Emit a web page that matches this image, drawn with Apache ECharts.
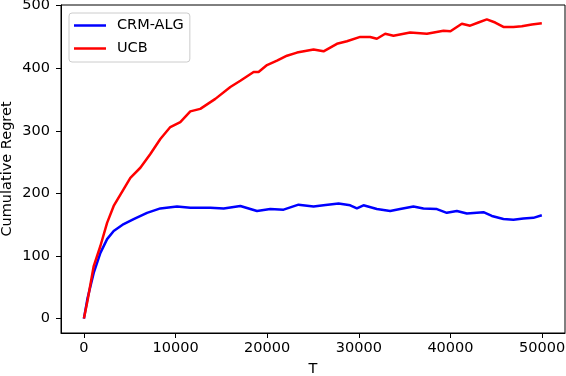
<!DOCTYPE html>
<html>
<head>
<meta charset="utf-8">
<script src="https://cdn.jsdelivr.net/npm/echarts@6.0.0/dist/echarts.min.js"></script>
<style>
  html, body { margin: 0; padding: 0; background: #fff; }
  #chart { width: 566px; height: 376px; }
</style>
</head>
<body>
<div id="chart"></div>
<script>
// values
const crmT = [0, 400, 1070, 1800, 2530, 3250, 4340, 5430, 6890, 8340, 10160, 11610, 12520, 13800, 15250, 17070, 18890, 20340, 21790, 23420, 25060, 26150, 27790, 29060, 29790, 30510, 31970, 33420, 34510, 35960, 37050, 38520, 39600, 40700, 41790, 43600, 44520, 45780, 46870, 47960, 49050, 49970];
const crmR = [0, 33, 73, 105, 127, 140, 151, 159, 169, 176, 179, 177, 177, 177, 176, 180, 172, 175, 174, 182, 179, 181, 184, 181, 176, 181, 175, 172, 175, 179, 176, 175, 169, 172, 168, 170, 164, 159, 158, 160, 161, 165];

const ucbT = [0, 414, 1070, 1800, 2530, 3250, 4340, 5070, 6160, 7250, 8340, 9430, 10520, 11610, 12700, 14340, 15980, 17070, 18520, 19060, 19980, 21070, 22160, 23250, 25060, 26150, 27610, 28700, 30150, 31240, 31970, 32880, 33780, 35600, 37430, 39240, 40000, 41240, 42150, 43050, 43970, 44880, 45780, 46870, 47790, 48880, 49970];
const ucbR = [0, 30, 84, 116, 153, 180, 207, 225, 241, 263, 287, 306, 314, 331, 335, 351, 370, 380, 394, 394, 405, 412, 420, 425, 430, 427, 439, 443, 450, 450, 447, 455, 452, 457, 455, 460, 459, 471, 468, 473, 478, 473, 466, 466, 467, 470, 472];

const xTicks = [0, 10000, 20000, 30000, 40000, 50000];
const yTicks = [0, 100, 200, 300, 400, 500];

const font = 'DejaVu Sans';

function pairs(xs, ys) {
  return xs.map((x, i) => [x, ys[i]]);
}

const chart = echarts.init(document.getElementById('chart'));

const option = {
  animation: false,
  backgroundColor: '#fff',
  grid: {
    left: 61, right: 1, top: 5, bottom: 43,
    containLabel: false,
    outerBoundsMode: 'none',
    show: true, borderColor: '#000', borderWidth: 1
  },
  legend: {
    orient: 'vertical',
    left: 69, top: 13,
    padding: [5, 6, 6, 5],
    itemWidth: 32, itemHeight: 2.5, itemGap: 8,
    icon: 'rect',
    backgroundColor: '#fff',
    borderColor: '#cccccc', borderWidth: 1, borderRadius: 3,
    textStyle: { fontFamily: font, fontSize: 14.5, color: '#000', padding: [0, 0, 0, 6] },
    data: ['CRM-ALG', 'UCB']
  },
  xAxis: {
    type: 'value',
    min: -2500, max: 52500,
    name: 'T',
    nameLocation: 'middle',
    nameGap: 29,
    nameMoveOverlap: false,
    nameTextStyle: { fontFamily: font, fontSize: 14.5, color: '#000' },
    splitLine: { show: false },
    axisLine: { onZero: false, lineStyle: { color: '#000', width: 1 } },
    axisTick: { show: true, length: 5, lineStyle: { color: '#000' }, customValues: xTicks },
    axisLabel: {
      fontFamily: font, fontSize: 14.5, color: '#000', margin: 8,
      customValues: xTicks,
      formatter: (v) => String(v)
    }
  },
  yAxis: {
    type: 'value',
    min: -23, max: 501,
    name: 'Cumulative Regret',
    nameLocation: 'middle',
    nameGap: 46,
    nameMoveOverlap: false,
    nameTextStyle: { fontFamily: font, fontSize: 14.5, color: '#000' },
    splitLine: { show: false },
    axisLine: { show: true, onZero: false, lineStyle: { color: '#000', width: 1 } },
    axisTick: { show: true, length: 5, lineStyle: { color: '#000' }, customValues: yTicks },
    axisLabel: {
      fontFamily: font, fontSize: 14.5, color: '#000', margin: 11,
      customValues: yTicks,
      formatter: (v) => String(v)
    }
  },
  series: [
    {
      name: 'CRM-ALG',
      type: 'line',
      data: pairs(crmT, crmR),
      symbol: 'none',
      color: '#0000ff',
      lineStyle: { width: 2.5, color: '#0000ff' }
    },
    {
      name: 'UCB',
      type: 'line',
      data: pairs(ucbT, ucbR),
      symbol: 'none',
      color: '#ff0000',
      lineStyle: { width: 2.5, color: '#ff0000' }
    }
  ]
};

chart.setOption(option);
</script>
</body>
</html>
